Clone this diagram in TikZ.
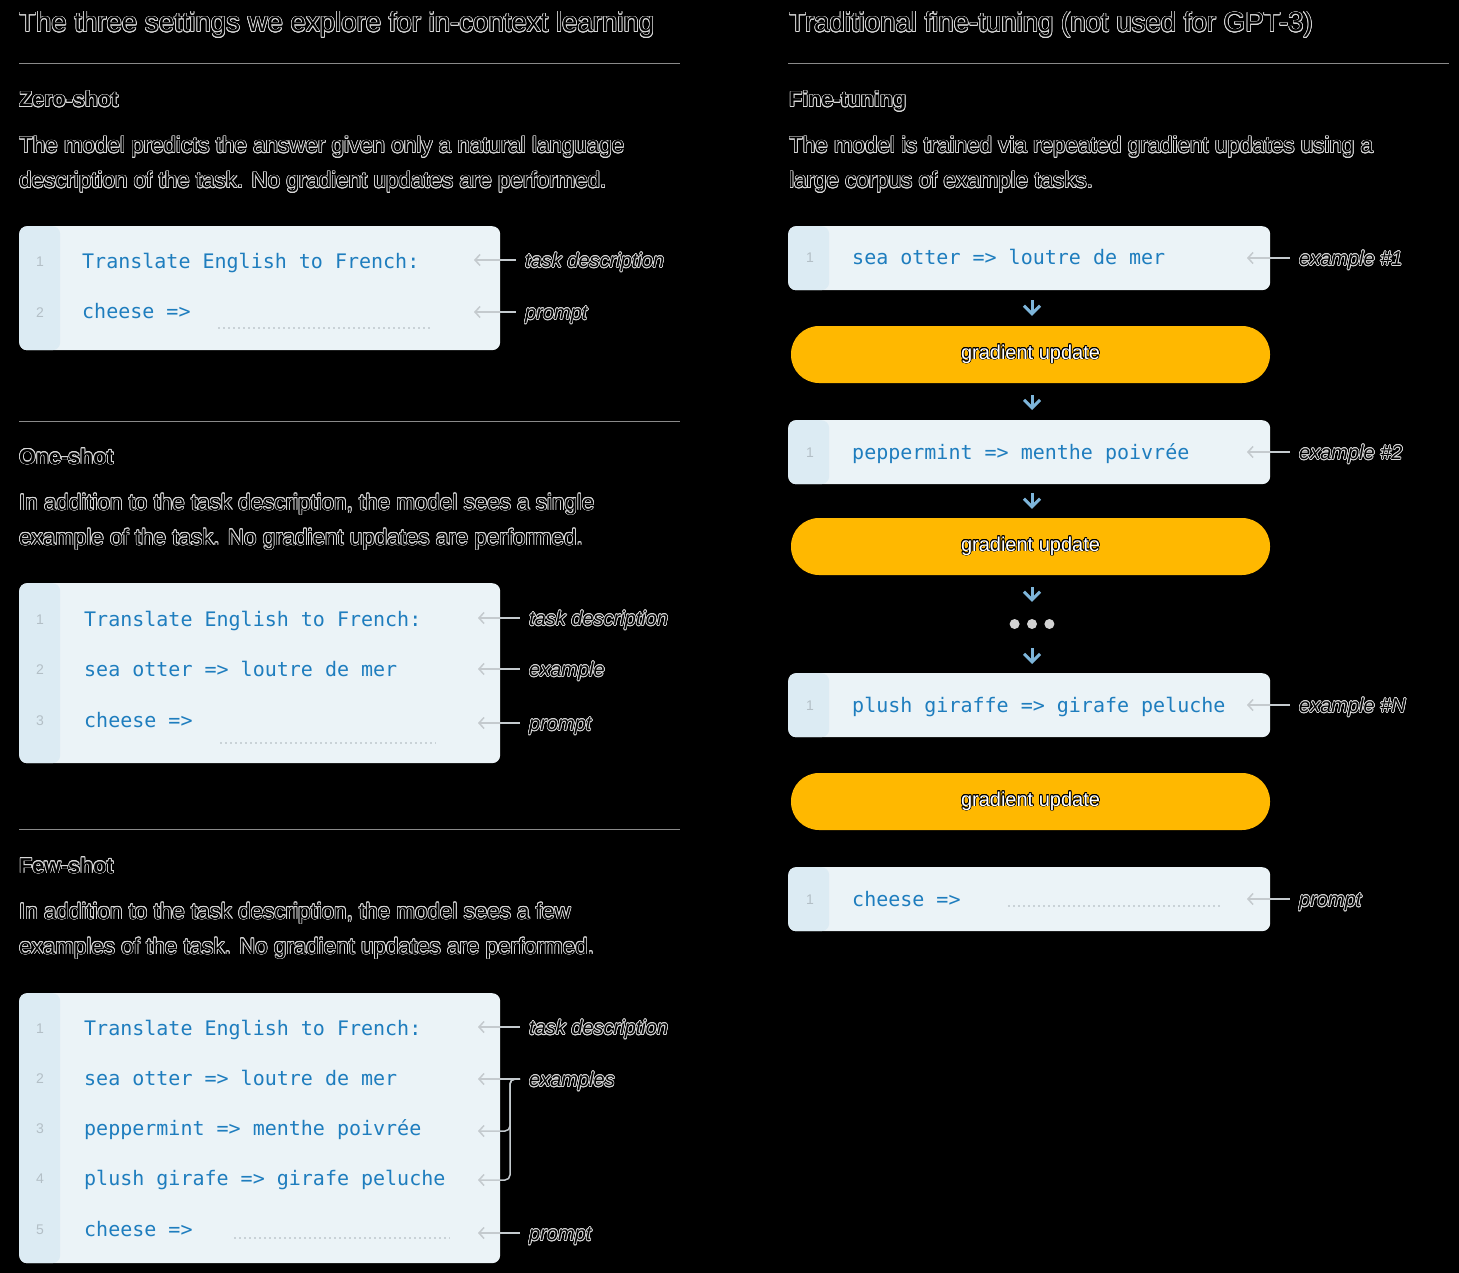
\documentclass[tikz,border=0pt]{standalone}
\usepackage{fontspec}
\setmainfont{Liberation Sans}
\setmonofont{DejaVu Sans Mono}
\usepackage{contour}
\contourlength{0.7pt}
\usetikzlibrary{arrows.meta,positioning}
\definecolor{boxfill}{HTML}{EBF3F7}
\definecolor{gutter}{HTML}{DCEBF3}
\definecolor{codeblue}{HTML}{1E7DBE}
\definecolor{numgray}{HTML}{B3BFC6}
\definecolor{halocol}{HTML}{D9D9D9}
\definecolor{rulegray}{HTML}{8A8A8A}
\definecolor{gold}{HTML}{FFB800}
\definecolor{arrowblue}{HTML}{7DB5DA}
\definecolor{tickgray}{HTML}{C4CACE}
\definecolor{dotgray}{HTML}{D2D2D2}
\definecolor{dashgray}{HTML}{C9D2D7}
\newcommand{\halo}[1]{\contour{halocol}{#1}}

\begin{document}
\begin{tikzpicture}[x=1pt, y=-1pt,
    headline/.style={font=\fontsize{27.6}{28}\selectfont, anchor=base west, inner sep=0pt},
    heading/.style={font=\bfseries\fontsize{21.5}{22}\selectfont, anchor=base west, inner sep=0pt},
    para/.style={font=\fontsize{22.4}{23}\selectfont, anchor=base west, inner sep=0pt},
    sepline/.style={draw=rulegray, line width=1pt},
    codebox/.style={fill=boxfill, rounded corners=8pt, anchor=north west, inner sep=0pt,
      path picture={\fill[gutter] (path picture bounding box.north west) rectangle
        ([xshift=41pt]path picture bounding box.south west);}},
    codeline/.style={font=\ttfamily\fontsize{20}{20}\selectfont, text=codeblue, anchor=base west, inner sep=0pt},
    lnum/.style={font=\fontsize{14}{14}\selectfont, text=numgray, anchor=base, inner sep=0pt},
    blank/.style={draw=dashgray, line width=2pt, dash pattern=on 2pt off 3pt},
    lbl/.style={font=\itshape\fontsize{20}{20}\selectfont, anchor=west, inner xsep=9pt, inner ysep=0pt,
      text height=20pt, text depth=5pt},
    lblarrow/.style={draw=tickgray, line width=1.5pt, {Straight Barb[length=5pt,width=11pt]}-},
    pill/.style={fill=gold, rounded corners=28pt, minimum width=479pt, minimum height=57pt,
      text=white, font=\fontsize{20}{20}\selectfont, text height=12pt, text depth=3pt},
    downarr/.style={draw=arrowblue, line width=3pt, -{Straight Barb[length=8pt,width=16pt]}},
    ddot/.style={circle, fill=dotgray, minimum size=10pt, inner sep=0pt}]

  \fill[black] (0,0) rectangle (1459,1273);
  \useasboundingbox (0,0) rectangle (1459,1273);

  % in-context learning
  \node[headline] (lt) at (19,32) {\halo{The three settings we explore for in-context learning}};
  \draw[sepline] (19,64) -- (680,64);

  \node[heading] (zs) at (19,107) {\halo{Zero-shot}};
  \node[para] (zsa) at (19,153) {\halo{The model predicts the answer given only a natural language}};
  \node[para] (zsb) at (19,188) {\halo{description of the task. No gradient updates are performed.}};

  \node[codebox, minimum width=481pt, minimum height=124pt] (zsbox) at (19,226) {};
  \node[lnum] at (40,267) {1};
  \node[lnum] at (40,317) {2};
  \node[codeline] (zs1) at (82,269) {Translate English to French:};
  \node[codeline] (zs2) at (82,319) {cheese =>};
  \draw[blank] (218,328) -- (430,328);
  \coordinate (zs-t1) at (474,260);
  \coordinate (zs-t2) at (474,312);
  \node[lbl] (zs-td) at (516,260) {\halo{task description}};
  \node[lbl] (zs-pr) at (516,312) {\halo{prompt}};
  \draw[lblarrow] (zs-t1) -- (zs-td.west);
  \draw[lblarrow] (zs-t2) -- (zs-pr.west);

  \draw[sepline] (19,421) -- (680,421);

  \node[heading] (os) at (19,464) {\halo{One-shot}};
  \node[para] (osa) at (19,510) {\halo{In addition to the task description, the model sees a single}};
  \node[para] (osb) at (19,545) {\halo{example of the task. No gradient updates are performed.}};

  \node[codebox, minimum width=481pt, minimum height=180pt] (osbox) at (19,583) {};
  \node[lnum] at (40,624) {1};
  \node[lnum] at (40,674) {2};
  \node[lnum] at (40,725) {3};
  \node[codeline] (os1) at (84,626) {Translate English to French:};
  \node[codeline] (os2) at (84,676) {sea otter => loutre de mer};
  \node[codeline] (os3) at (84,727) {cheese =>};
  \draw[blank] (220,743) -- (436,743);
  \coordinate (os-t1) at (478,618);
  \coordinate (os-t2) at (478,669);
  \coordinate (os-t3) at (478,723);
  \node[lbl] (os-td) at (520,618) {\halo{task description}};
  \node[lbl] (os-ex) at (520,669) {\halo{example}};
  \node[lbl] (os-pr) at (520,723) {\halo{prompt}};
  \draw[lblarrow] (os-t1) -- (os-td.west);
  \draw[lblarrow] (os-t2) -- (os-ex.west);
  \draw[lblarrow] (os-t3) -- (os-pr.west);

  \draw[sepline] (19,829) -- (680,829);

  \node[heading] (fs) at (19,873) {\halo{Few-shot}};
  \node[para] (fsa) at (19,919) {\halo{In addition to the task description, the model sees a few}};
  \node[para] (fsb) at (19,954) {\halo{examples of the task. No gradient updates are performed.}};

  \node[codebox, minimum width=481pt, minimum height=270pt] (fsbox) at (19,993) {};
  \foreach \n/\y in {1/1033, 2/1083, 3/1133, 4/1183, 5/1234}
    \node[lnum] at (40,\y) {\n};
  \node[codeline] (fs1) at (84,1035) {Translate English to French:};
  \node[codeline] (fs2) at (84,1085) {sea otter => loutre de mer};
  \node[codeline] (fs3) at (84,1135) {peppermint => menthe poivrée};
  \node[codeline] (fs4) at (84,1185) {plush girafe => girafe peluche};
  \node[codeline] (fs5) at (84,1236) {cheese =>};
  \draw[blank] (234,1238) -- (450,1238);
  \coordinate (fs-t1) at (478,1027);
  \coordinate (fs-t2) at (478,1079);
  \coordinate (fs-t3) at (478,1131);
  \coordinate (fs-t4) at (478,1180);
  \coordinate (fs-t5) at (478,1233);
  \node[lbl] (fs-td) at (520,1027) {\halo{task description}};
  \node[lbl] (fs-ex) at (520,1079) {\halo{examples}};
  \node[lbl] (fs-pr) at (520,1233) {\halo{prompt}};
  \draw[lblarrow] (fs-t1) -- (fs-td.west);
  \draw[lblarrow] (fs-t2) -- (fs-ex.west);
  \draw[lblarrow, rounded corners=5pt] (fs-t3) -| ([xshift=-10pt]fs-ex.west) -- (fs-ex.west);
  \draw[lblarrow, rounded corners=5pt] (fs-t4) -| ([xshift=-10pt]fs-ex.west) -- (fs-ex.west);
  \draw[lblarrow] (fs-t5) -- (fs-pr.west);

  % fine-tuning
  \node[headline] (rt) at (789,32) {\halo{Traditional fine-tuning (not used for GPT-3)}};
  \draw[sepline] (788,64) -- (1449,64);

  \node[heading] (ft) at (789,107) {\halo{Fine-tuning}};
  \node[para] (fta) at (789,153) {\halo{The model is trained via repeated gradient updates using a}};
  \node[para] (ftb) at (789,188) {\halo{large corpus of example tasks.}};

  \node[codebox, minimum width=482pt, minimum height=64pt] (exA) at (788,226) {};
  \node[codebox, minimum width=482pt, minimum height=64pt] (exB) at (788,420) {};
  \node[codebox, minimum width=482pt, minimum height=64pt] (exC) at (788,673) {};
  \node[codebox, minimum width=482pt, minimum height=64pt] (exD) at (788,867) {};
  \foreach \y in {263, 457, 710, 904}
    \node[lnum] at (810,\y) {1};
  \node[codeline] (a1) at (852,265) {sea otter => loutre de mer};
  \node[codeline] (b1) at (852,459) {peppermint => menthe poivrée};
  \node[codeline] (c1) at (852,712) {plush giraffe => girafe peluche};
  \node[codeline] (d1) at (852,906) {cheese =>};
  \draw[blank] (1008,906) -- (1222,906);

  \node[pill] (gu1) at (1030.5,354.5) {\contour{black}{gradient update}};
  \node[pill] (gu2) at (1030.5,546.5) {\contour{black}{gradient update}};
  \node[pill] (gu3) at (1030.5,801.5) {\contour{black}{gradient update}};

  \node[ddot] (dt2) at (1032,624) {};
  \node[ddot, left=7pt of dt2] (dt1) {};
  \node[ddot, right=7pt of dt2] (dt3) {};

  \draw[downarr, shorten <=10pt, shorten >=10pt] (exA.south -| dt2) -- (gu1.north -| dt2);
  \draw[downarr, shorten <=12pt, shorten >=10pt] (gu1.south -| dt2) -- (exB.north -| dt2);
  \draw[downarr, shorten <=9pt, shorten >=9pt] (exB.south -| dt2) -- (gu2.north -| dt2);
  \draw[downarr, shorten <=12pt, shorten >=17pt] (gu2.south -| dt2) -- (dt2.north);
  \draw[downarr, shorten <=19pt, shorten >=9pt] (dt2.south) -- (exC.north -| dt2);

  \coordinate (ra) at (1247,258);
  \coordinate (rb) at (1247,452);
  \coordinate (rc) at (1247,705);
  \coordinate (rd) at (1247,899);
  \node[lbl] (la) at (1290,258) {\halo{example \#1}};
  \node[lbl] (lb) at (1290,452) {\halo{example \#2}};
  \node[lbl] (lc) at (1290,705) {\halo{example \#N}};
  \node[lbl] (ld) at (1290,899) {\halo{prompt}};
  \draw[lblarrow] (ra) -- (la.west);
  \draw[lblarrow] (rb) -- (lb.west);
  \draw[lblarrow] (rc) -- (lc.west);
  \draw[lblarrow] (rd) -- (ld.west);
\end{tikzpicture}
\end{document}
